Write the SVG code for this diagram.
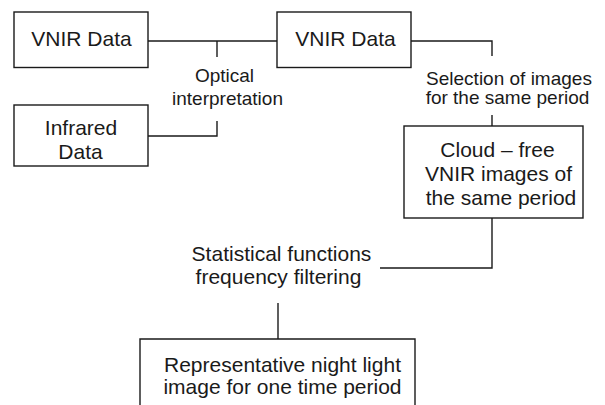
<svg xmlns="http://www.w3.org/2000/svg" width="605" height="405" viewBox="0 0 605 405">
  <style>
    .box { fill: #ffffff; stroke: #1a1a1a; stroke-width: 1.4; }
    .link { fill: none; stroke: #1a1a1a; stroke-width: 1.4; }
    text { font-family: "Liberation Sans", Arial, sans-serif; fill: #1a1a1a; text-anchor: middle; }
    .big { font-size: 21px; }
    .small { font-size: 19px; }
  </style>
  <rect width="605" height="405" fill="#ffffff"/>

  <g id="connectors">
    <!-- VNIR / Infrared merge via optical interpretation -->
    <path class="link" d="M148 41 H277"/>
    <path class="link" d="M217 41 V57"/>
    <path class="link" d="M148 136 H217 V121"/>
    <!-- Selection step -->
    <path class="link" d="M411 41 H492 V56"/>
    <path class="link" d="M492 115 V126"/>
    <!-- Statistical functions step -->
    <path class="link" d="M492 218 V268 H380"/>
    <path class="link" d="M278 303 V339"/>
  </g>

  <g id="vnir-data-1">
    <rect class="box" x="14" y="12" width="134" height="55.5"/>
    <text class="big" x="81.5" y="46">VNIR Data</text>
  </g>

  <g id="infrared-data">
    <rect class="box" x="14" y="105" width="134" height="61"/>
    <text class="big" x="81" y="135">Infrared</text>
    <text class="big" x="80.5" y="159">Data</text>
  </g>

  <g id="optical-interpretation">
    <text class="small" x="224.5" y="82">Optical</text>
    <text class="small" x="227.5" y="104.5">interpretation</text>
  </g>

  <g id="vnir-data-2">
    <rect class="box" x="277" y="12" width="134" height="55.5"/>
    <text class="big" x="345.5" y="46">VNIR Data</text>
  </g>

  <g id="selection">
    <text class="small" x="509" y="85">Selection of images</text>
    <text class="small" x="507.5" y="104">for the same period</text>
  </g>

  <g id="cloud-free">
    <rect class="box" x="404" y="126" width="179" height="92"/>
    <text class="big" x="497.5" y="157">Cloud – free</text>
    <text class="big" x="498.5" y="181">VNIR images of</text>
    <text class="big" x="501" y="205">the same period</text>
  </g>

  <g id="statistical-functions">
    <text class="big" x="281.5" y="261">Statistical functions</text>
    <text class="big" x="278.5" y="283.5">frequency filtering</text>
  </g>

  <g id="representative-image">
    <path class="box" d="M140 406 V339 H415 V406"/>
    <text class="big" x="282.5" y="372">Representative night light</text>
    <text class="big" x="282.5" y="393.5">image for one time period</text>
  </g>
</svg>
